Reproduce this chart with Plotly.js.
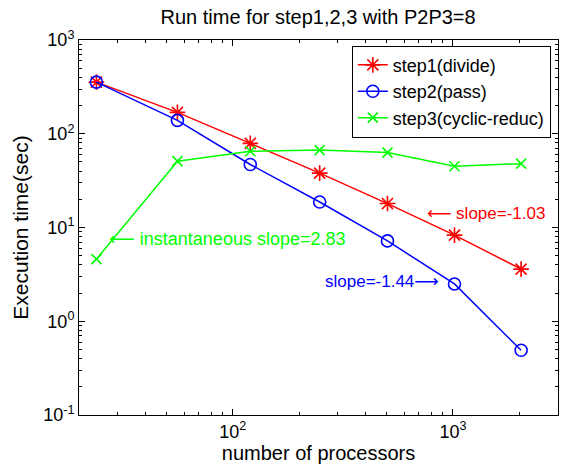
<!DOCTYPE html>
<html>
<head>
<meta charset="utf-8">
<script src="https://cdn.plot.ly/plotly-3.0.1.min.js"></script>
<style>html,body{margin:0;padding:0;background:#fff;}#chart{width:561px;height:467px;}</style>
</head>
<body>
<div id="chart"></div>
<script>
const processors = [24, 56, 120, 248, 504, 1016, 2040];
const step1Divide = [355, 169, 79, 38, 18, 8.3, 3.6];
const step2Pass = [355, 139, 47, 18.7, 7.2, 2.5, 0.49];
const step3Cyclic = [4.6, 51, 65, 67, 63, 45, 48];
const seriesNames = ['step1(divide)', 'step2(pass)', 'step3(cyclic-reduc)'];
const xTickVals = [100, 1000];
const xTickText = ['10<sup>2</sup>', '10<sup>3</sup>'];
const yTickVals = [0.1, 1, 10, 100, 1000];
const yTickText = ['10<sup>-1</sup>', '10<sup>0</sup>', '10<sup>1</sup>', '10<sup>2</sup>', '10<sup>3</sup>'];

const FONT = 'Liberation Sans, Arial, sans-serif';
const ARROW_L = '<span style="font-family:DejaVu Sans">\u27F5</span>';
const ARROW_R = '<span style="font-family:DejaVu Sans">\u27F6</span>';

const traces = [
  {x: processors, y: step1Divide, name: seriesNames[0], mode: 'lines+markers', type: 'scatter',
   line: {color: '#ff0000', width: 1.5},
   marker: {symbol: 'asterisk-open', size: 13, color: '#ff0000', line: {color: '#ff0000', width: 1.6}}},
  {x: processors, y: step2Pass, name: seriesNames[1], mode: 'lines+markers', type: 'scatter',
   line: {color: '#0000ff', width: 1.5},
   marker: {symbol: 'circle-open', size: 12, color: '#0000ff', line: {color: '#0000ff', width: 1.6}}},
  {x: processors, y: step3Cyclic, name: seriesNames[2], mode: 'lines+markers', type: 'scatter',
   line: {color: '#00ff00', width: 1.5},
   marker: {symbol: 'x-thin-open', size: 10, color: '#00ff00', line: {color: '#00ff00', width: 1.6}}}
];

const axisCommon = {
  type: 'log', showgrid: false, zeroline: false, showline: true, linecolor: '#000', linewidth: 1,
  mirror: 'allticks', ticks: 'inside', ticklen: 6, tickcolor: '#000', tickwidth: 1,
  minor: {ticks: 'inside', ticklen: 3, tickcolor: '#000', dtick: 'D1', showgrid: false},
  tickfont: {family: FONT, size: 18, color: '#000'}, tickmode: 'array', automargin: false
};

const layout = {
  width: 561, height: 467,
  margin: {l: 79, r: 3, t: 40, b: 52},
  paper_bgcolor: '#fff', plot_bgcolor: '#fff',
  font: {family: FONT, color: '#000'},
  title: {text: 'Run time for step1,2,3 with P2P3=8', font: {family: FONT, size: 20, color: '#000'},
          x: 0.567, xanchor: 'center', y: 0.963, yanchor: 'middle'},
  xaxis: Object.assign({}, axisCommon, {
    range: [Math.log10(20), Math.log10(3000)], tickvals: xTickVals, ticktext: xTickText,
    title: {text: 'number of processors', font: {family: FONT, size: 20, color: '#000'}, standoff: 0}
  }),
  yaxis: Object.assign({}, axisCommon, {
    range: [-1, 3], tickvals: yTickVals, ticktext: yTickText,
    title: {text: 'Execution time(sec)', font: {family: FONT, size: 21, color: '#000'}, standoff: 8}
  }),
  showlegend: true,
  legend: {x: 0.985, xanchor: 'right', y: 0.985, yanchor: 'top', bgcolor: '#fff', bordercolor: '#000',
           borderwidth: 1, font: {family: FONT, size: 18, color: '#000'}, tracegroupgap: 0},
  annotations: [
    {xref: 'x', yref: 'y', x: 2.875, y: 1.154, xanchor: 'left', yanchor: 'middle', showarrow: false,
     text: ARROW_L + ' slope=-1.03', font: {family: FONT, size: 17, color: '#ff0000'}},
    {xref: 'x', yref: 'y', x: 1.43, y: 0.887, xanchor: 'left', yanchor: 'middle', showarrow: false,
     text: ARROW_L + ' instantaneous slope=2.83', font: {family: FONT, size: 18, color: '#00ff00'}},
    {xref: 'x', yref: 'y', x: 2.41, y: 0.431, xanchor: 'left', yanchor: 'middle', showarrow: false,
     text: 'slope=-1.44' + ARROW_R, font: {family: FONT, size: 17, color: '#0000ff'}}
  ]
};

Plotly.newPlot('chart', traces, layout, {displayModeBar: false, staticPlot: true});
</script>
</body>
</html>
